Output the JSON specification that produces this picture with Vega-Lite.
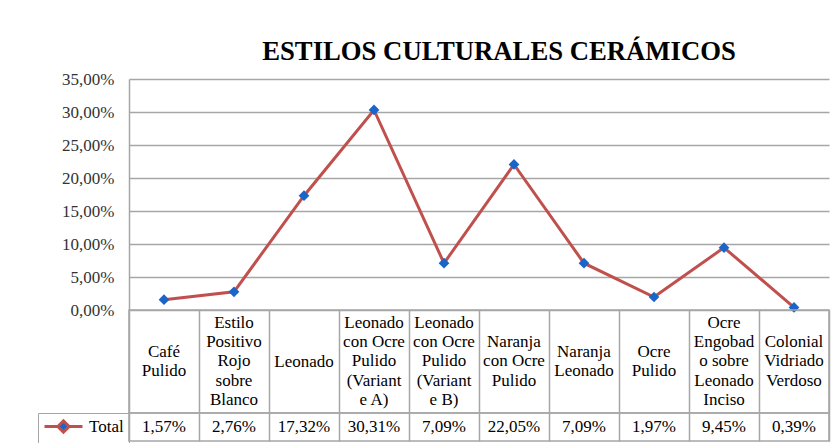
{
  "$schema": "https://vega.github.io/schema/vega-lite/v6.json",
  "background": "white",
  "padding": {"left": 36, "top": 39, "right": 5, "bottom": 0},
  "spacing": 0,
  "bounds": "flush",
  "resolve": {"scale": {"fill": "independent", "stroke": "independent"}, "legend": {"fill": "independent", "stroke": "independent"}},
  "datasets": {
    "d": [
      {"estilo": "Café Pulido", "etiqueta": "Café\nPulido", "pct": 0.0157},
      {"estilo": "Estilo Positivo Rojo sobre Blanco", "etiqueta": "Estilo\nPositivo\nRojo\nsobre\nBlanco", "pct": 0.0276},
      {"estilo": "Leonado", "etiqueta": "Leonado", "pct": 0.1732},
      {"estilo": "Leonado con Ocre Pulido (Variante A)", "etiqueta": "Leonado\ncon Ocre\nPulido\n(Variant\ne A)", "pct": 0.3031},
      {"estilo": "Leonado con Ocre Pulido (Variante B)", "etiqueta": "Leonado\ncon Ocre\nPulido\n(Variant\ne B)", "pct": 0.0709},
      {"estilo": "Naranja con Ocre Pulido", "etiqueta": "Naranja\ncon Ocre\nPulido", "pct": 0.2205},
      {"estilo": "Naranja Leonado", "etiqueta": "Naranja\nLeonado", "pct": 0.0709},
      {"estilo": "Ocre Pulido", "etiqueta": "Ocre\nPulido", "pct": 0.0197},
      {"estilo": "Ocre Engobado sobre Leonado Inciso", "etiqueta": "Ocre\nEngobad\no sobre\nLeonado\nInciso", "pct": 0.0945},
      {"estilo": "Colonial Vidriado Verdoso", "etiqueta": "Colonial\nVidriado\nVerdoso", "pct": 0.0039}
    ]
  },
  "vconcat": [
    {
      "width": 700,
      "height": 231,
      "view": {"stroke": null},
      "title": {"text": "ESTILOS CULTURALES CERÁMICOS", "font": "Liberation Serif", "fontSize": 26.7, "fontWeight": "bold", "color": "#000000", "anchor": "middle", "dx": 20, "offset": 4},
      "data": {"name": "d"},
      "encoding": {
        "x": {"field": "estilo", "type": "nominal", "sort": null, "scale": {"paddingInner": 0, "paddingOuter": 0}, "axis": null},
        "y": {"field": "pct", "type": "quantitative", "scale": {"domain": [0, 0.35], "nice": false},
          "axis": {"title": null, "values": [0, 0.05, 0.1, 0.15, 0.2, 0.25, 0.3, 0.35], "format": ".2%", "labelFont": "Liberation Serif", "labelFontSize": 17, "labelColor": "#333333", "labelPadding": 15, "ticks": false, "domain": true, "domainColor": "#A6A6A6", "domainWidth": 1.5, "grid": true, "gridColor": "#A6A6A6", "gridWidth": 1.5, "gridOpacity": 1}}
      },
      "layer": [
        {"mark": {"type": "line", "color": "#C0504D", "strokeWidth": 3}},
        {"mark": {"type": "point", "shape": "diamond", "filled": true, "color": "#1A66C8", "size": 115, "opacity": 1}}
      ]
    },
    {
      "width": 700,
      "height": 103,
      "view": {"stroke": "#A6A6A6", "strokeWidth": 1.5},
      "data": {"name": "d"},
      "mark": {"type": "text", "lineBreak": "\n", "font": "Liberation Serif", "fontSize": 17, "lineHeight": 19.3, "color": "#000000", "baseline": "middle",
        "dy": {"expr": "-(length(split(datum.etiqueta, '\\n')) - 1) * 9.65"}},
      "encoding": {
        "x": {"field": "estilo", "type": "nominal", "sort": null, "scale": {"paddingInner": 0, "paddingOuter": 0},
          "axis": {"title": null, "labels": false, "ticks": false, "domain": false, "grid": true, "tickBand": "extent", "gridColor": "#A6A6A6", "gridWidth": 1.5, "gridOpacity": 1}},
        "text": {"field": "etiqueta", "type": "nominal"}
      }
    },
    {
      "width": 700,
      "height": 28,
      "view": {"stroke": "#A6A6A6", "strokeWidth": 1.5},
      "data": {"name": "d"},
      "encoding": {
        "x": {"field": "estilo", "type": "nominal", "sort": null, "scale": {"paddingInner": 0, "paddingOuter": 0},
          "axis": {"title": null, "labels": false, "ticks": false, "domain": false, "grid": true, "tickBand": "extent", "gridColor": "#A6A6A6", "gridWidth": 1.5, "gridOpacity": 1}}
      },
      "layer": [
        {
          "mark": {"type": "text", "font": "Liberation Serif", "fontSize": 17, "color": "#000000", "baseline": "middle"},
          "encoding": {"text": {"field": "pct", "type": "quantitative", "format": ".2%"}}
        },
        {
          "mark": {"type": "point", "opacity": 0, "filled": true, "strokeWidth": 3},
          "encoding": {
            "fill": {"datum": "Total", "type": "nominal", "scale": {"range": ["#1A66C8"]},
              "legend": {"orient": "left", "offset": 0, "title": null, "symbolType": "M-1,0L0.93,0M2.49,0L4.43,0M0.91,0L1.71,-0.8L2.51,0L1.71,0.8Z", "symbolSize": 196, "symbolStrokeWidth": 3, "symbolOpacity": 1, "labelFont": "Liberation Serif", "labelFontSize": 17, "labelColor": "#000000", "labelOffset": 29, "strokeColor": "#A6A6A6", "padding": 5}},
            "stroke": {"datum": "Total", "type": "nominal", "scale": {"range": ["#C0504D"]},
              "legend": {"orient": "left", "offset": 0, "title": null, "symbolType": "M-1,0L0.93,0M2.49,0L4.43,0M0.91,0L1.71,-0.8L2.51,0L1.71,0.8Z", "symbolSize": 196, "symbolStrokeWidth": 3, "symbolOpacity": 1, "labelFont": "Liberation Serif", "labelFontSize": 17, "labelColor": "#000000", "labelOffset": 29, "strokeColor": "#A6A6A6", "padding": 5}}
          }
        }
      ]
    }
  ],
  "config": {
    "locale": {"number": {"decimal": ",", "thousands": ".", "grouping": [3], "currency": ["", " €"]}}
  }
}
